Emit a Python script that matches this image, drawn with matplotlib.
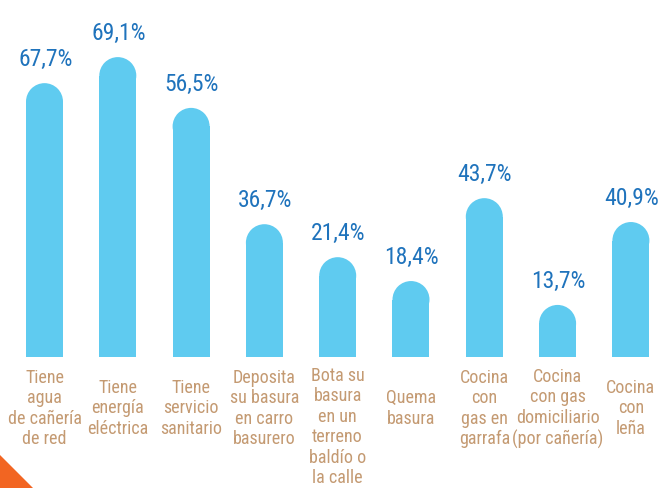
import matplotlib
matplotlib.use("Agg")
import matplotlib.pyplot as plt
from matplotlib import font_manager
from matplotlib.patches import Ellipse, Polygon

# data
categories = [
    "Tiene\nagua\nde cañería\nde red",
    "Tiene\nenergía\neléctrica",
    "Tiene\nservicio\nsanitario",
    "Deposita\nsu basura\nen carro\nbasurero",
    "Bota su\nbasura\nen un\nterreno\nbaldío o\nla calle",
    "Quema\nbasura",
    "Cocina\ncon\ngas en\ngarrafa",
    "Cocina\ncon gas\ndomiciliario\n(por cañería)",
    "Cocina\ncon\nleña",
]
values = [67.7, 69.1, 56.5, 36.7, 21.4, 18.4, 43.7, 13.7, 40.9]
value_labels = ["67,7%", "69,1%", "56,5%", "36,7%", "21,4%", "18,4%", "43,7%", "13,7%", "40,9%"]
# heights as drawn in the infographic (not to scale with the values)
drawn_heights = [63.1, 69.1, 57.4, 30.6, 23.0, 17.5, 36.6, 12.0, 31.1]

bar_color = "#5FCBF0"
value_color = "#1F73BC"
cat_color = "#C49A72"

# pick a narrow font if one is installed
names = {f.name for f in font_manager.fontManager.ttflist}
font = "DejaVu Sans"
for cand in ["Liberation Sans Narrow", "Roboto Condensed", "Open Sans Condensed", "Noto Sans"]:
    if cand in names:
        font = cand
        break
plt.rcParams["font.family"] = [font, "DejaVu Sans"]

W, H, dpi = 658, 488, 100
fig = plt.figure(figsize=(W / dpi, H / dpi), dpi=dpi)

# layout in pixels
x0_px, step_px, bar_px = 44.5, 73.3, 37
base_px = 357          # baseline, from top
px_per_unit = 4.34

ax = fig.add_axes([0, (H - base_px) / H, 1, base_px / H])
ax.set_xlim(-x0_px / step_px, (W - x0_px) / step_px)
ax.set_ylim(0, base_px / px_per_unit)
ax.axis("off")

width = bar_px / step_px
r_y = (bar_px / 2) / px_per_unit
xs = range(len(categories))

ax.bar(xs, [h - r_y for h in drawn_heights], width=width, color=bar_color, linewidth=0)
for x, h in zip(xs, drawn_heights):
    ax.add_patch(Ellipse((x, h - r_y), width, 2 * r_y, color=bar_color, linewidth=0))

for x, h, lab in zip(xs, drawn_heights, value_labels):
    ax.annotate(lab, (x, h), xytext=(0.5, 12.5), textcoords="offset points",
                ha="center", va="baseline", fontsize=17, color=value_color,
                fontstretch="condensed")

for x, cat in zip(xs, categories):
    n = cat.count("\n") + 1
    if n > 4:
        ax.annotate(cat, (x, 0), xytext=(0, -7), textcoords="offset points",
                    ha="center", va="top", fontsize=13, color=cat_color,
                    linespacing=1.18, fontstretch="condensed", annotation_clip=False)
    else:
        ax.annotate(cat, (x, 0), xytext=(0, -37), textcoords="offset points",
                    ha="center", va="center", fontsize=13, color=cat_color,
                    linespacing=1.18, fontstretch="condensed", annotation_clip=False)

# orange corner decoration
fig.add_artist(Polygon([(0, 0), (0, 33 / H), (33 / W, 0)], closed=True,
                       transform=fig.transFigure, color="#F26522", linewidth=0))

fig.savefig("out.png", dpi=dpi)
